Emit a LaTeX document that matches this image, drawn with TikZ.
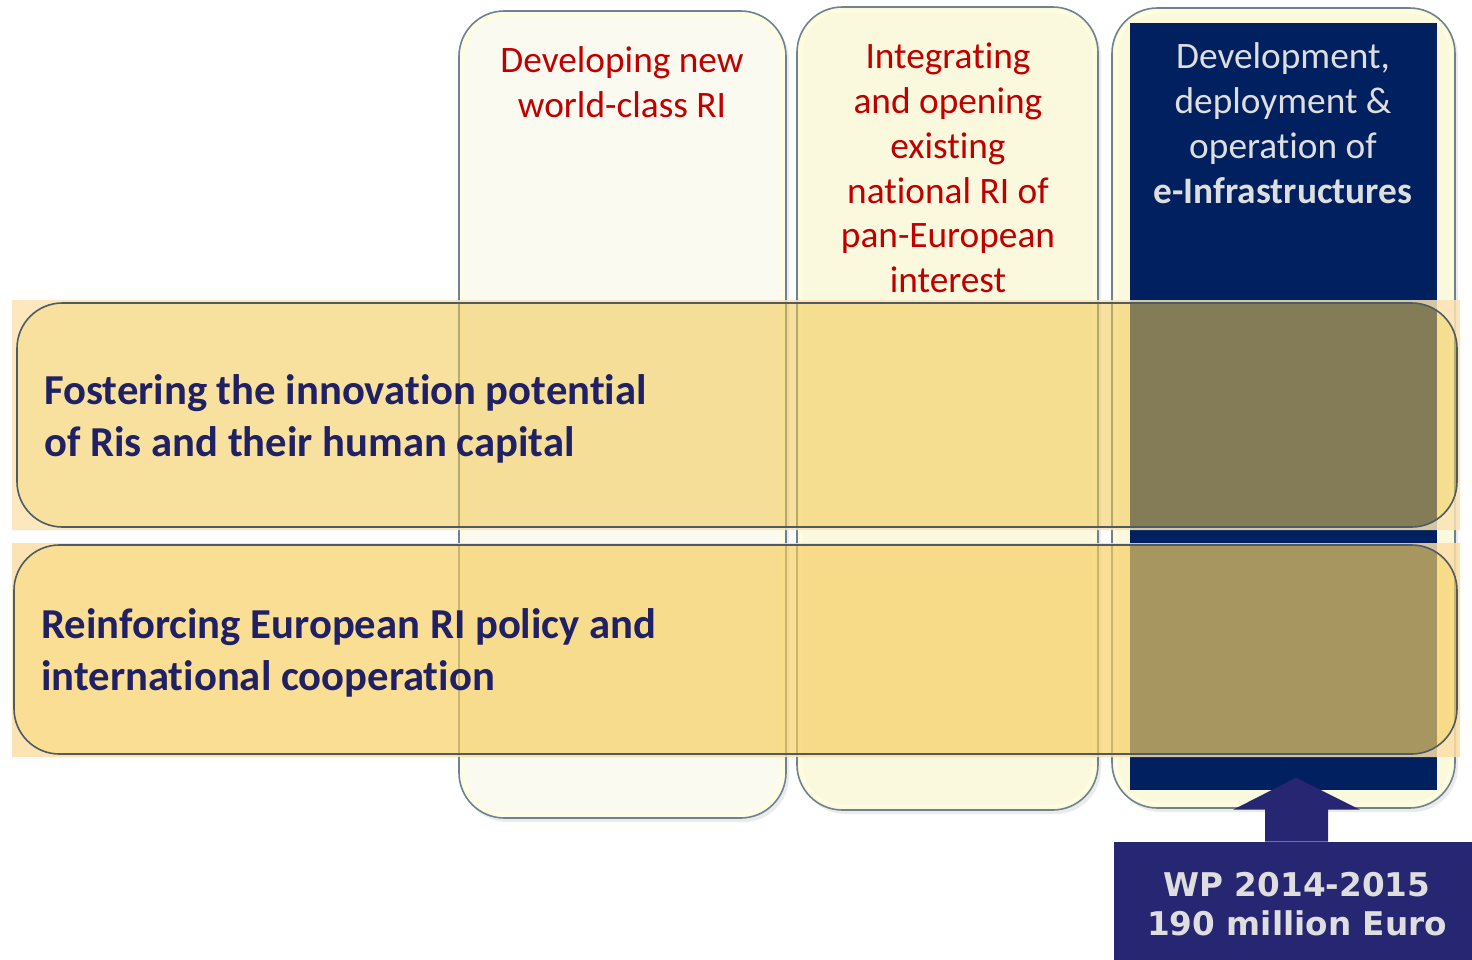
\documentclass[tikz,border=0pt]{standalone}
\usepackage{fontspec}
\setmainfont{Carlito}[Ligatures=CommonOff]
\newfontfamily\wpfont{DejaVu Sans}
\usetikzlibrary{calc}

\definecolor{rired}{RGB}{192,0,0}
\definecolor{rinavy}{RGB}{0,32,96}
\definecolor{riindigo}{RGB}{39,38,114}
\definecolor{riink}{RGB}{32,33,100}
\definecolor{rigrey}{RGB}{222,222,222}
\definecolor{ririm}{RGB}{112,130,142}
\definecolor{colpale}{RGB}{250,250,240}
\definecolor{colcream}{RGB}{250,249,222}
\definecolor{bandlow}{RGB}{242,201,81}
\definecolor{bandhigh}{RGB}{247,206,96}
\definecolor{peachlow}{RGB}{251,227,180}
\definecolor{peachhigh}{RGB}{252,222,166}

\tikzset{
  pillar/.style={draw=ririm, line width=1.2pt, rounded corners=34pt},
  gloss/.style={draw=yellow!12, line width=2.5pt, rounded corners=31pt},
  shade/.style={fill=black, opacity=0.08, rounded corners=34pt},
  band/.style={draw=ririm!70!black, line width=1.2pt, rounded corners=34pt},
  redtext/.style={text=rired, align=center, inner sep=0pt,
    font=\fontsize{28}{33.6}\selectfont},
  greytext/.style={text=rigrey, align=center, inner sep=0pt,
    font=\fontsize{28}{33.6}\selectfont},
  bandtext/.style={text=riink, align=left, inner sep=0pt, anchor=west,
    font=\fontsize{32}{38.7}\selectfont\bfseries},
  wpbox/.style={fill=riindigo, text=rigrey, align=center, inner sep=0pt,
    minimum width=274.5pt, minimum height=93pt,
    font=\wpfont\bfseries\fontsize{24.5}{29.3}\selectfont}
}

\begin{document}
\begin{tikzpicture}[x=0.75pt,y=-0.75pt]
\useasboundingbox (0,0) rectangle (1472,960);

% the three columns
\fill[shade] (462,15) rectangle (789,822);
\fill[shade] (800,11) rectangle (1101,814);
\fill[shade] (1115,12) rectangle (1458,812);
\filldraw[pillar, fill=colpale] (459,11) rectangle (786,818);
\draw[gloss] (463,15) rectangle (782,814);
\filldraw[pillar, fill=colcream] (797,7) rectangle (1098,810);
\draw[gloss] (801,11) rectangle (1094,806);
\filldraw[pillar, fill=colcream] (1112,8) rectangle (1455,808);
\draw[gloss] (1116,12) rectangle (1451,804);
\fill[rinavy] (1130,23) rectangle (1437,790);

\node[redtext] (dev) at (622,82) {Developing new\\world-class RI};
\node[redtext] (integ) at (948,168) {Integrating\\and opening\\existing\\national RI of\\pan-European\\interest};
\node[greytext] (einfra) at (1283,123) {Development,\\deployment \&\\operation of\\\textbf{e-Infrastructures}};

% the two bands across
\fill[peachlow, opacity=0.85, even odd rule] (12,300) rectangle (1460,530)
  [rounded corners=34pt] (17,303) rectangle (1457,527);
\filldraw[band, fill=bandlow, fill opacity=0.55] (17,303) rectangle (1457,527);
\fill[peachhigh, opacity=0.85, even odd rule] (12,543) rectangle (1460,757)
  [rounded corners=34pt] (14,545) rectangle (1457,754);
\filldraw[band, fill=bandhigh, fill opacity=0.68] (14,545) rectangle (1457,754);

\node[bandtext] (foster) at (44,419) {Fostering the innovation potential\\of Ris and their human capital};
\node[bandtext] (reinforce) at (41,653) {Reinforcing European RI policy and\\international cooperation};

% budget box and its arrow
\node[wpbox] (wp) at (1297,904) {WP 2014-2015\\190 million Euro};
\fill[riindigo] ($(wp.north)+(-32,0)$) -- ++(0,-32) -- ++(-32,0)
  -- ($(wp.north)+(-1,-64)$) -- ($(wp.north)+(63,-32)$) -- ++(-32,0)
  -- ($(wp.north)+(31,0)$) -- cycle;
\end{tikzpicture}
\end{document}
